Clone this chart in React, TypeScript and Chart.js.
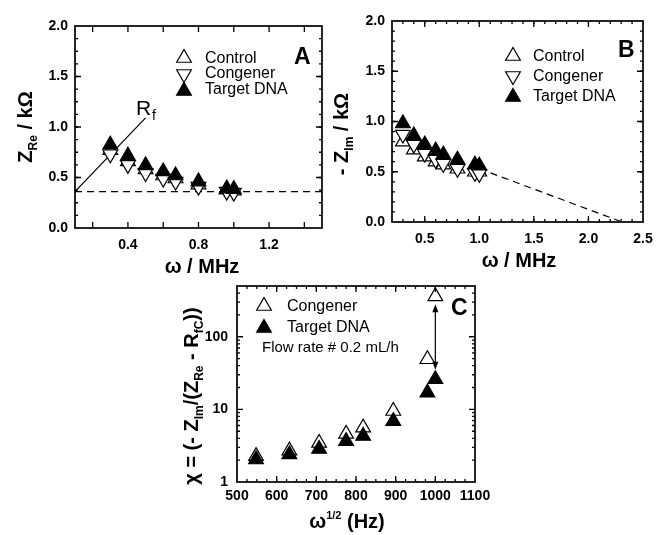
import React, { useEffect, useRef } from 'react';
import { Chart, registerables } from 'chart.js';
Chart.register(...registerables);

const FONT = '"Liberation Sans", Arial, sans-serif';

// ---------- data ----------
const OMEGA_MHZ = [0.3, 0.4, 0.5, 0.6, 0.67, 0.8, 0.96, 1.0];
const A_CONTROL = [0.77, 0.66, 0.58, 0.52, 0.49, 0.43, 0.38, 0.37];
const A_CONGENER = [0.73, 0.625, 0.545, 0.49, 0.46, 0.41, 0.36, 0.35];
const A_TARGET = [0.825, 0.715, 0.62, 0.56, 0.52, 0.46, 0.39, 0.385];
const B_CONTROL = [0.8, 0.72, 0.65, 0.6, 0.57, 0.53, 0.5, 0.5];
const B_CONGENER = [0.87, 0.77, 0.68, 0.62, 0.58, 0.53, 0.49, 0.48];
const B_TARGET = [0.98, 0.86, 0.77, 0.71, 0.67, 0.62, 0.57, 0.56];
const OMEGA_SQRT_HZ = [548, 632, 707, 775, 818, 894, 980, 1000];
const C_CONGENER = [2.27, 2.7, 3.45, 4.6, 5.6, 9.5, 49, 360];
const C_TARGET = [2.05, 2.4, 2.85, 3.65, 4.3, 6.9, 17, 26];

// reference lines
const A_BASE_X = [0.1, 1.5];
const A_BASE_Y = [0.36, 0.36];
const A_RF_X = [0.1, 0.5];
const A_RF_Y = [0.36, 1.09];
const B_FIT_X = [1.0, 2.31];
const B_FIT_Y = [0.53, 0];
const C_ARROW_X = [1000, 1000];
const C_ARROW_Y = [280, 35];

// ticks
const A_X_LABELS = [0.4, 0.8, 1.2];
const A_Y_LABELS = [0, 0.5, 1.0, 1.5, 2.0];
const B_X_LABELS = [0.5, 1.0, 1.5, 2.0, 2.5];
const B_Y_LABELS = [0, 0.5, 1.0, 1.5, 2.0];
const C_X_LABELS = [500, 600, 700, 800, 900, 1000, 1100];
const C_Y_LABELS = [1, 10, 100];

const pts = (xs: number[], ys: number[]) => xs.map((x, i) => ({ x, y: ys[i] }));
const range = (a: number, b: number, s: number) => {
  const out: number[] = [];
  for (let v = a; v <= b + 1e-9; v += s) out.push(+v.toFixed(4));
  return out;
};

type Geom = { cl: number; ct: number; cw: number; ch: number; pl: number; pt: number; pr: number; pb: number };

const R = 8.5;

function tri(ctx: CanvasRenderingContext2D, x: number, y: number, r: number, down: boolean, filled: boolean) {
  const s = down ? -1 : 1;
  ctx.beginPath();
  ctx.moveTo(x, y - s * r);
  ctx.lineTo(x + (r * Math.sqrt(3)) / 2, y + (s * r) / 2);
  ctx.lineTo(x - (r * Math.sqrt(3)) / 2, y + (s * r) / 2);
  ctx.closePath();
  ctx.fillStyle = filled ? '#000' : '#fff';
  ctx.fill();
  ctx.lineWidth = 1.2;
  ctx.strokeStyle = '#000';
  ctx.stroke();
}

type Seg = [string, number, number?];
function rich(ctx: CanvasRenderingContext2D, segs: Seg[], cx: number, cy: number, rot = 0, bold = true) {
  ctx.save();
  ctx.translate(cx, cy);
  ctx.rotate(rot);
  const fonts = segs.map((s) => `${bold ? 'bold ' : ''}${s[1]}px ${FONT}`);
  let total = 0;
  const ws = segs.map((s, i) => {
    ctx.font = fonts[i];
    const w = ctx.measureText(s[0]).width;
    total += w;
    return w;
  });
  let x = -total / 2;
  const base = segs[0][1] * 0.36;
  ctx.fillStyle = '#000';
  ctx.textBaseline = 'alphabetic';
  ctx.textAlign = 'left';
  segs.forEach((s, i) => {
    ctx.font = fonts[i];
    ctx.fillText(s[0], x, base + (s[2] || 0));
    x += ws[i];
  });
  ctx.restore();
}

function label(ctx: CanvasRenderingContext2D, t: string, x: number, y: number, size: number, bold = false) {
  ctx.font = `${bold ? 'bold ' : ''}${size}px ${FONT}`;
  ctx.fillStyle = '#000';
  ctx.textAlign = 'left';
  ctx.textBaseline = 'middle';
  ctx.fillText(t, x, y);
}

function frameAndTicks(chart: any, xMaj: number[], xMin: number[], yMaj: number[], yMin: number[]) {
  const ctx: CanvasRenderingContext2D = chart.ctx;
  const a = chart.chartArea;
  const sx = chart.scales.x;
  const sy = chart.scales.y;
  ctx.save();
  ctx.strokeStyle = '#000';
  ctx.lineWidth = 1.3;
  const tick = (px: number, len: number, horiz: boolean) => {
    ctx.beginPath();
    if (horiz) {
      ctx.moveTo(px, a.bottom); ctx.lineTo(px, a.bottom - len);
      ctx.moveTo(px, a.top); ctx.lineTo(px, a.top + len);
    } else {
      ctx.moveTo(a.left, px); ctx.lineTo(a.left + len, px);
      ctx.moveTo(a.right, px); ctx.lineTo(a.right - len, px);
    }
    ctx.stroke();
  };
  xMin.forEach((v) => { const p = sx.getPixelForValue(v); if (p > a.left + 1 && p < a.right - 1) tick(p, 3, true); });
  xMaj.forEach((v) => { const p = sx.getPixelForValue(v); if (p > a.left + 1 && p < a.right - 1) tick(p, 6, true); });
  yMin.forEach((v) => { const p = sy.getPixelForValue(v); if (p > a.top + 1 && p < a.bottom - 1) tick(p, 3, false); });
  yMaj.forEach((v) => { const p = sy.getPixelForValue(v); if (p > a.top + 1 && p < a.bottom - 1) tick(p, 6, false); });
  ctx.lineWidth = 1.7;
  ctx.strokeRect(a.left, a.top, a.right - a.left, a.bottom - a.top);
  ctx.restore();
}

function axis(
  type: 'linear' | 'logarithmic',
  min: number,
  max: number,
  labels: number[],
  padding: number,
  fmt: (v: number) => string,
  fit: (s: any) => void
) {
  return {
    type,
    min,
    max,
    grid: { display: false, drawTicks: false },
    border: { display: false },
    ticks: {
      font: { family: FONT, size: 14, weight: 'bold' },
      color: '#000',
      padding,
      maxRotation: 0,
      autoSkip: false,
      callback: (v: any) => fmt(Number(v)),
    },
    afterBuildTicks: (s: any) => { s.ticks = labels.map((v) => ({ value: v })); },
    afterFit: (s: any) => {
      fit(s);
      s.paddingLeft = 0;
      s.paddingRight = 0;
      s.paddingTop = 0;
      s.paddingBottom = 0;
    },
  };
}

const openUp = (data: any[], order: number) => ({
  type: 'scatter', data, order, pointStyle: 'triangle', rotation: 0, pointRadius: R, pointHoverRadius: R,
  pointBackgroundColor: '#fff', pointBorderColor: '#000', pointBorderWidth: 1.2, showLine: false,
});
const openDown = (data: any[], order: number) => ({
  type: 'scatter', data, order, pointStyle: 'triangle', rotation: 180, pointRadius: R, pointHoverRadius: R,
  pointBackgroundColor: '#fff', pointBorderColor: '#000', pointBorderWidth: 1.2, showLine: false,
});
const filledUp = (data: any[], order: number) => ({
  type: 'scatter', data, order, pointStyle: 'triangle', rotation: 0, pointRadius: R, pointHoverRadius: R,
  pointBackgroundColor: '#000', pointBorderColor: '#000', pointBorderWidth: 1.2, showLine: false,
});
const lineDs = (data: any[], dash: number[], order: number) => ({
  type: 'line', data, order, borderColor: '#000', borderWidth: 1.2, borderDash: dash, pointRadius: 0,
  fill: false, showLine: true, tension: 0,
});

function build(g: Geom, xAxis: any, yAxis: any, datasets: any[], draw: (ctx: CanvasRenderingContext2D, chart: any) => void) {
  return {
    type: 'scatter',
    data: { datasets },
    options: {
      animation: false,
      responsive: false,
      devicePixelRatio: 1,
      events: [],
      layout: { padding: { left: 0, top: g.pt - g.ct, right: g.cl + g.cw - g.pr, bottom: 0 } },
      plugins: { legend: { display: false }, tooltip: { enabled: false }, title: { display: false } },
      scales: { x: { ...xAxis, position: 'bottom' }, y: { ...yAxis, position: 'left' } },
    },
    plugins: [
      {
        id: 'decor',
        afterDraw: (chart: any) => {
          const ctx: CanvasRenderingContext2D = chart.ctx;
          ctx.save();
          ctx.translate(-g.cl, -g.ct);
          draw(ctx, chart);
          ctx.restore();
        },
      },
    ],
  };
}

const GA: Geom = { cl: 0, ct: 0, cw: 336, ch: 280, pl: 75, pt: 26, pr: 322, pb: 228 };
const GB: Geom = { cl: 330, ct: 0, cw: 326, ch: 280, pl: 392, pt: 21, pr: 643, pb: 222 };
const GC: Geom = { cl: 140, ct: 270, cw: 380, ch: 265, pl: 237, pt: 286, pr: 475, pb: 482 };

const f1 = (v: number) => v.toFixed(1);
const f0 = (v: number) => String(v);

function configA() {
  const g = GA;
  return build(
    g,
    axis('linear', 0.1, 1.5, A_X_LABELS, 9, f1, (s: any) => { s.height = g.ct + g.ch - g.pb; }),
    axis('linear', 0, 2, A_Y_LABELS, 7, f1, (s: any) => { s.width = g.pl - g.cl; }),
    [
      lineDs(pts(A_BASE_X, A_BASE_Y), [7, 5], 5),
      lineDs(pts(A_RF_X, A_RF_Y), [], 4),
      openUp(pts(OMEGA_MHZ, A_CONTROL), 2),
      openDown(pts(OMEGA_MHZ, A_CONGENER), 1),
      filledUp(pts(OMEGA_MHZ, A_TARGET), 0),
    ],
    (ctx, chart) => {
      ctx.translate(g.cl, g.ct);
      frameAndTicks(chart, range(0.2, 1.4, 0.2), [], A_Y_LABELS, range(0, 2, 0.125));
      ctx.translate(-g.cl, -g.ct);
      tri(ctx, 184, 58, R, false, false);
      tri(ctx, 184, 74, R, true, false);
      tri(ctx, 184, 91, R, false, true);
      label(ctx, 'Control', 205, 59, 16);
      label(ctx, 'Congener', 205, 74, 16);
      label(ctx, 'Target DNA', 205, 90, 16);
      label(ctx, 'A', 294, 58, 23, true);
      ctx.font = `21px ${FONT}`;
      ctx.fillStyle = '#000';
      ctx.textAlign = 'left';
      ctx.textBaseline = 'alphabetic';
      ctx.fillText('R', 136, 115);
      ctx.font = `14px ${FONT}`;
      ctx.fillText('f', 152, 120);
      rich(ctx, [['ω / MHz', 20]], 202, 266);
      rich(ctx, [['Z', 20], ['Re', 12, 5], [' / kΩ', 20]], 25, 127, -Math.PI / 2);
    }
  );
}

function configB() {
  const g = GB;
  return build(
    g,
    axis('linear', 0.2, 2.5, B_X_LABELS, 9, f1, (s: any) => { s.height = g.ct + g.ch - g.pb; }),
    axis('linear', 0, 2, B_Y_LABELS, 7, f1, (s: any) => { s.width = g.pl - g.cl; }),
    [
      lineDs(pts(B_FIT_X, B_FIT_Y), [7, 5], 5),
      openUp(pts(OMEGA_MHZ, B_CONTROL), 2),
      openDown(pts(OMEGA_MHZ, B_CONGENER), 1),
      filledUp(pts(OMEGA_MHZ, B_TARGET), 0),
    ],
    (ctx, chart) => {
      ctx.translate(g.cl, g.ct);
      frameAndTicks(chart, B_X_LABELS, range(0.2, 2.5, 0.1), B_Y_LABELS, range(0, 2, 0.1));
      ctx.translate(-g.cl, -g.ct);
      tri(ctx, 513, 56, R, false, false);
      tri(ctx, 513, 76, R, true, false);
      tri(ctx, 513, 97, R, false, true);
      label(ctx, 'Control', 533, 57, 16);
      label(ctx, 'Congener', 533, 77, 16);
      label(ctx, 'Target DNA', 533, 97, 16);
      label(ctx, 'B', 618, 51, 23, true);
      rich(ctx, [['ω / MHz', 20]], 519, 260);
      rich(ctx, [['- Z', 20], ['Im', 12, 5], [' / kΩ', 20]], 341, 134, -Math.PI / 2);
    }
  );
}

function configC() {
  const g = GC;
  const yMinor: number[] = [];
  [1, 10, 100].forEach((d) => { for (let k = 2; k <= 9; k++) if (k * d <= 500) yMinor.push(k * d); });
  return build(
    g,
    axis('linear', 500, 1100, C_X_LABELS, 6, f0, (s: any) => { s.height = g.ct + g.ch - g.pb; }),
    axis('logarithmic', 1, 500, C_Y_LABELS, 9, f0, (s: any) => { s.width = g.pl - g.cl; }),
    [
      openUp(pts(OMEGA_SQRT_HZ, C_CONGENER), 1),
      filledUp(pts(OMEGA_SQRT_HZ, C_TARGET), 0),
    ],
    (ctx, chart) => {
      ctx.translate(g.cl, g.ct);
      frameAndTicks(chart, C_X_LABELS, range(500, 1100, 25), C_Y_LABELS, yMinor);
      // double-headed arrow
      const sx = chart.scales.x;
      const sy = chart.scales.y;
      const x = sx.getPixelForValue(C_ARROW_X[0]);
      const y1 = sy.getPixelForValue(C_ARROW_Y[0]);
      const y2 = sy.getPixelForValue(C_ARROW_Y[1]);
      ctx.strokeStyle = '#000';
      ctx.fillStyle = '#000';
      ctx.lineWidth = 1.2;
      ctx.beginPath();
      ctx.moveTo(x, y1 + 5);
      ctx.lineTo(x, y2 - 5);
      ctx.stroke();
      ctx.beginPath();
      ctx.moveTo(x, y1); ctx.lineTo(x - 3, y1 + 8); ctx.lineTo(x + 3, y1 + 8); ctx.closePath(); ctx.fill();
      ctx.beginPath();
      ctx.moveTo(x, y2); ctx.lineTo(x - 3, y2 - 8); ctx.lineTo(x + 3, y2 - 8); ctx.closePath(); ctx.fill();
      ctx.translate(-g.cl, -g.ct);
      tri(ctx, 264, 306, R, false, false);
      tri(ctx, 264, 328, R, false, true);
      label(ctx, 'Congener', 287, 307, 16);
      label(ctx, 'Target DNA', 287, 328, 16);
      label(ctx, 'Flow rate # 0.2 mL/h', 262, 348, 15);
      label(ctx, 'C', 451, 309, 23, true);
      rich(ctx, [['ω', 20], ['1/2', 11, -9], [' (Hz)', 20]], 347, 521);
      rich(
        ctx,
        [['χ = (- Z', 20], ['Im', 12, 5], ['/(Z', 20], ['Re', 12, 5], [' - R', 20], ['fC', 12, 5], ['))', 20]],
        191,
        396,
        -Math.PI / 2
      );
    }
  );
}

function Panel({ g, make }: { g: Geom; make: () => any }) {
  const ref = useRef<HTMLCanvasElement>(null);
  useEffect(() => {
    const chart = new Chart(ref.current as HTMLCanvasElement, make());
    return () => chart.destroy();
  }, []);
  return (
    <canvas
      ref={ref}
      width={g.cw}
      height={g.ch}
      style={{ position: 'absolute', left: g.cl, top: g.ct, width: g.cw, height: g.ch }}
    />
  );
}

export default function App() {
  return (
    <div style={{ position: 'absolute', left: 0, top: 0, width: 656, height: 535, background: '#fff' }}>
      <Panel g={GA} make={configA} />
      <Panel g={GB} make={configB} />
      <Panel g={GC} make={configC} />
    </div>
  );
}
